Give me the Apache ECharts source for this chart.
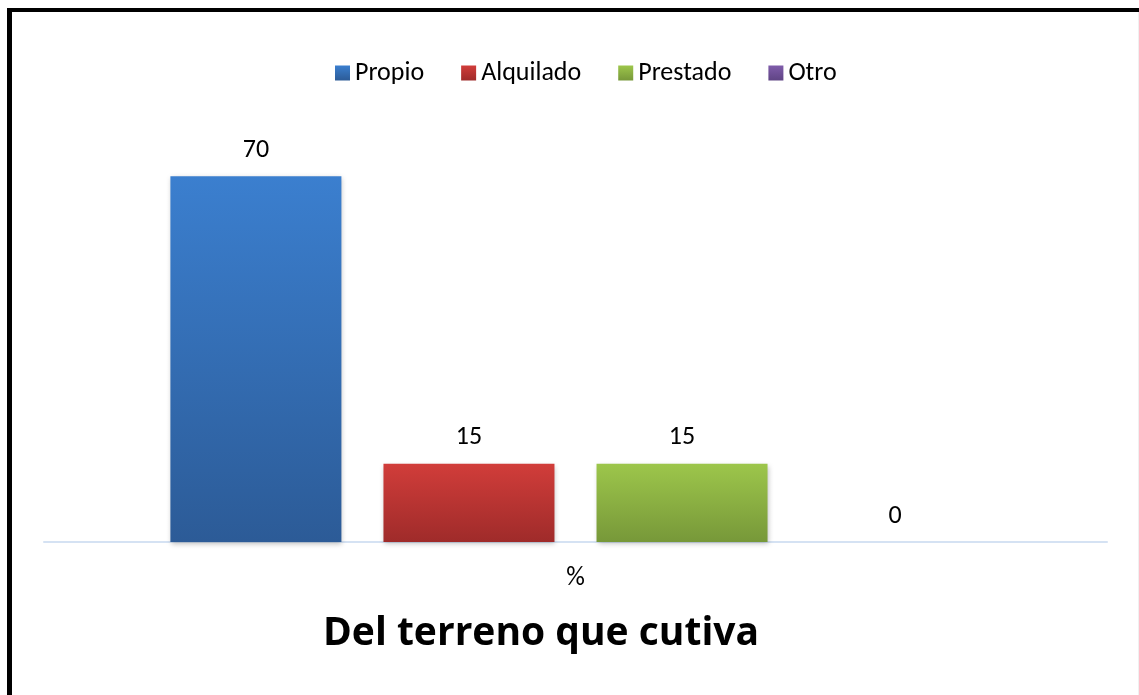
<!DOCTYPE html>
<html>
<head>
<meta charset="utf-8">
<script src="https://cdn.jsdelivr.net/npm/echarts@6/dist/echarts.min.js"></script>
<style>
  html, body { margin: 0; padding: 0; background: #fff; }
  #terrenoChart { width: 1139px; height: 695px; }
</style>
</head>
<body>
<div id="terrenoChart"></div>
<script>
// datos de la gráfica
var categories = ['%']
var seriesNames = ['Propio', 'Alquilado', 'Prestado', 'Otro']
var values = [70, 15, 15, 0]
var topColors = ['#3b7fcf', '#d13d3a', '#9dc64b', '#7f5caa']
var bottomColors = ['#2c5b97', '#9f2b2a', '#779839', '#5f4484']

var font = 'Carlito, Lato, "Open Sans", sans-serif'
var titleFont = '"Open Sans", Carlito, Lato, sans-serif'

var series = seriesNames.map(function(name, i) {
  return {
    name: name,
    type: 'bar',
    data: [values[i]],
    barWidth: 171,
    barGap: '24.6%',
    itemStyle: {
      color: new echarts.graphic.LinearGradient(0, 0, 0, 1, [
        { offset: 0, color: topColors[i] },
        { offset: 1, color: bottomColors[i] }
      ]),
      shadowBlur: 5,
      shadowOffsetX: 1,
      shadowOffsetY: 2,
      shadowColor: 'rgba(0,0,0,0.25)'
    },
    label: {
      show: true,
      position: 'top',
      distance: 13,
      color: '#000',
      fontFamily: font,
      fontSize: 26
    }
  }
})

var chart = echarts.init(document.getElementById('terrenoChart'))
chart.setOption({
  backgroundColor: '#fff',
  animation: false,
  textStyle: { fontFamily: font },
  title: {
    text: 'Del terreno que cutiva',
    left: 318,
    top: 609,
    textStyle: { fontFamily: titleFont, fontSize: 39, fontWeight: 'bold', color: '#000' }
  },
  legend: {
    top: 55,
    left: 330,
    icon: 'rect',
    itemWidth: 15,
    itemHeight: 15,
    itemGap: 37,
    textStyle: { fontFamily: font, fontSize: 26, color: '#000' },
    data: seriesNames
  },
  grid: { left: 44, right: 32, top: 124, bottom: 153 },
  xAxis: {
    type: 'category',
    data: categories,
    axisLine: { lineStyle: { color: '#d5e2f3', width: 2 } },
    axisTick: { show: false },
    axisLabel: { color: '#000', fontSize: 26, margin: 23, fontFamily: font }
  },
  yAxis: {
    type: 'value',
    min: 0,
    max: 80,
    show: false
  },
  series: series,
  graphic: [
    { type: 'rect', shape: { x: 7, y: 8, width: 5, height: 687 }, style: { fill: '#000' } },
    { type: 'rect', shape: { x: 7, y: 8, width: 1132, height: 4 }, style: { fill: '#000' } },
    { type: 'rect', shape: { x: 1138, y: 12, width: 1, height: 683 }, style: { fill: '#f0f0f0' } }
  ]
})
window.addEventListener('resize', function() { chart.resize() })
</script>
</body>
</html>
